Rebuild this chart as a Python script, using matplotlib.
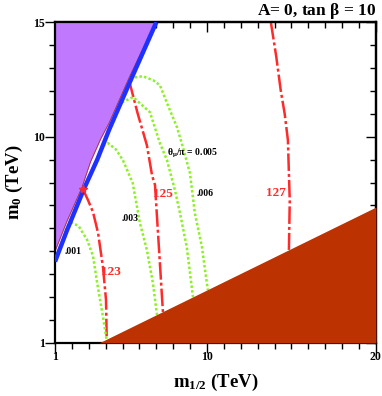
import matplotlib

matplotlib.use("Agg")
import matplotlib.pyplot as plt
from matplotlib.ticker import FixedLocator, NullFormatter

# boundary of the excluded (purple) region, m_1/2 vs m_0 in TeV
purple_m12 = [1.0, 1.7, 2.6, 3.1, 3.7, 4.2, 5.4, 6.95]
purple_m0 = [5.0, 6.3, 7.8, 8.9, 9.9, 10.6, 12.6, 15.0]

# blue band along the purple boundary
blue_m12 = [1.0, 1.7, 2.7, 3.5, 4.2, 5.5, 7.0]
blue_m0 = [4.55, 5.9, 7.7, 9.0, 10.3, 12.5, 15.0]

# upper edge of the brown region
brown_m12 = [3.6, 20.0]
brown_m0 = [1.0, 6.93]

# Higgs mass contours (GeV)
mh_labels = ["123", "125", "127"]
mh123_m12 = [2.66, 2.95, 3.25, 3.55, 3.84, 4.02, 4.06]
mh123_m0 = [7.7, 7.24, 6.71, 5.8, 4.31, 2.88, 1.2]
mh125_m12 = [5.38, 5.9, 6.44, 6.75, 6.92, 7.21, 7.39]
mh125_m0 = [12.47, 11.0, 9.63, 8.3, 7.9, 4.49, 2.35]
mh127_m12 = [13.78, 14.1, 14.37, 14.6, 14.79, 14.9, 14.85]
mh127_m0 = [15.0, 13.5, 12.0, 11.0, 9.85, 7.2, 5.06]

# theta_mu / pi contours
th001_m12 = [1.6, 1.8, 2.0, 2.4, 2.9, 3.25, 3.5, 3.85, 4.05]
th001_m0 = [5.9, 6.15, 6.25, 6.1, 5.5, 4.8, 3.6, 2.1, 1.15]
th003_m12 = [3.84, 4.14, 4.6, 5.02, 5.6, 6.03, 6.44, 6.8, 7.04]
th003_m0 = [9.63, 9.72, 9.45, 8.98, 7.98, 6.23, 5.06, 3.6, 2.22]
th005_m12 = [4.96, 5.62, 6.62, 7.21, 7.63, 8.1, 8.4, 8.8, 9.17]
th005_m0 = [11.5, 11.73, 11.07, 9.72, 8.98, 7.67, 6.67, 5.19, 3.0]
th006_m12 = [5.44, 6.2, 6.8, 7.21, 7.63, 8.22, 8.57, 8.99, 9.28, 9.7, 10.05]
th006_m0 = [12.56, 12.64, 12.47, 12.25, 11.47, 10.42, 9.55, 8.41, 6.67, 5.19, 3.3]

x_major = [1, 10, 20]
y_major = [1, 10, 15]

PURPLE = "#c078ff"
BROWN = "#bc3200"
BLUE = "#1e32ff"
RED = "#ff2a2a"
GREEN = "#8cf022"

plt.rcParams["font.family"] = ["Liberation Serif", "DejaVu Serif"]
plt.rcParams["font.weight"] = "bold"
plt.rcParams["axes.titleweight"] = "bold"
plt.rcParams["axes.labelweight"] = "bold"
plt.rcParams["mathtext.fontset"] = "custom"
plt.rcParams["mathtext.rm"] = "Liberation Serif:bold"
plt.rcParams["mathtext.it"] = "Liberation Serif:bold"
plt.rcParams["mathtext.bf"] = "Liberation Serif:bold"

fig = plt.figure(figsize=(3.82, 3.96), dpi=100)
ax = fig.add_axes([0.144, 0.134, 0.84, 0.81])

ax.fill_betweenx(purple_m0, 1.0, purple_m12, color=PURPLE, lw=0, zorder=1)
ax.plot(purple_m12, purple_m0, color="#b03030", lw=0.6, zorder=2)
ax.plot(blue_m12, blue_m0, color=BLUE, lw=3.2, solid_capstyle="butt", zorder=3)
ax.fill_between(brown_m12, brown_m0, 1.0, color=BROWN, lw=0, zorder=4)

dashdot = (0, (7, 1.2, 1.2, 1.2))
for xs, ys in [(mh123_m12, mh123_m0), (mh125_m12, mh125_m0), (mh127_m12, mh127_m0)]:
    ax.plot(xs, ys, color=RED, lw=1.8, linestyle=dashdot, zorder=2)
ax.plot(mh123_m12[:1], mh123_m0[:1], marker="*", color=RED, ms=6, zorder=3)

for xs, ys in [(th001_m12, th001_m0), (th003_m12, th003_m0),
               (th005_m12, th005_m0), (th006_m12, th006_m0)]:
    ax.plot(xs, ys, color=GREEN, lw=1.8, linestyle=(0, (1, 0.9)), zorder=2)

ax.text(4.31, 4.1, mh_labels[0], color=RED, fontsize=9.5, ha="center", va="center")
ax.text(7.39, 7.5, mh_labels[1], color=RED, fontsize=9.5, ha="center", va="center")
ax.text(14.07, 7.54, mh_labels[2], color=RED, fontsize=9.5, ha="center", va="center")
ax.text(2.07, 4.97, ".001", fontsize=7, ha="center", va="center")
ax.text(5.44, 6.45, ".003", fontsize=7, ha="center", va="center")
ax.text(9.88, 7.54, ".006", fontsize=7, ha="center", va="center")
ax.text(7.65, 9.29, r"$\theta_{\mu}/\pi$ = 0.005", fontsize=7, ha="left", va="center")

ax.set_xlim(1, 20)
ax.set_ylim(1, 15)
ax.xaxis.set_major_locator(FixedLocator(x_major))
ax.yaxis.set_major_locator(FixedLocator(y_major))
ax.xaxis.set_minor_locator(FixedLocator(range(1, 21)))
ax.yaxis.set_minor_locator(FixedLocator(range(1, 16)))
ax.tick_params(which="both", direction="out", width=1, labelsize=8.5, pad=0)
ax.tick_params(which="major", length=7)
ax.tick_params(which="minor", length=4)
ax.tick_params(axis="x", which="major", pad=-1)

top = ax.secondary_xaxis("top")
top.xaxis.set_major_locator(FixedLocator(x_major))
top.xaxis.set_minor_locator(FixedLocator(range(1, 21)))
top.xaxis.set_major_formatter(NullFormatter())
top.tick_params(which="both", direction="in", width=1)
top.tick_params(which="major", length=7)
top.tick_params(which="minor", length=4)
right = ax.secondary_yaxis("right")
right.yaxis.set_major_locator(FixedLocator(y_major))
right.yaxis.set_minor_locator(FixedLocator(range(1, 16)))
right.yaxis.set_major_formatter(NullFormatter())
right.tick_params(which="both", direction="in", width=1)
right.tick_params(which="major", length=7)
right.tick_params(which="minor", length=4)

for spine in ax.spines.values():
    spine.set_linewidth(1.6)
top.spines["top"].set_linewidth(1.6)
right.spines["right"].set_linewidth(1.6)

ax.set_xlabel(r"m$_{1/2}$ (TeV)", fontsize=13.5, labelpad=6)
ax.set_ylabel(r"m$_0$ (TeV)", fontsize=13.5, labelpad=6)
ax.set_title(r"A= 0, tan $\beta$ = 10", fontsize=12.5, loc="right", pad=5)

fig.savefig("out.png", dpi=100)
